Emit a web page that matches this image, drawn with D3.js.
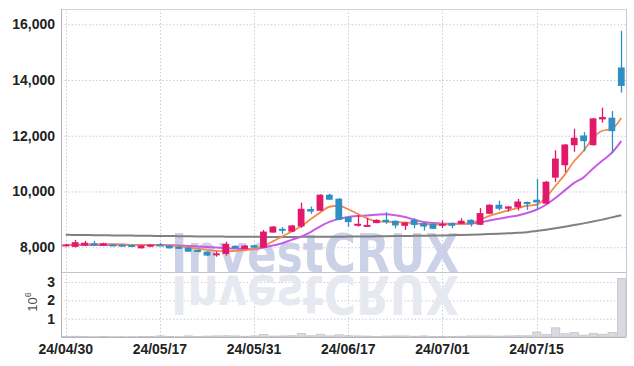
<!DOCTYPE html>
<html>
<head>
<meta charset="utf-8">
<script src="https://cdn.jsdelivr.net/npm/d3@7"></script>
<style>
  body { margin: 0; background: #fff; }
  svg { display: block; }
  .axis text { font-family: "Liberation Sans Narrow", "Liberation Sans", sans-serif; font-weight: bold; font-size: 14px; fill: #222; }
  .grid line { stroke: #c9cbe0; stroke-width: 1; stroke-dasharray: 1.5,2; }
</style>
</head>
<body>
<svg class="chart" width="634" height="366"></svg>
<script>
let dates = ['24/04/30','24/05/02','24/05/03','24/05/07','24/05/08','24/05/09','24/05/10','24/05/13','24/05/14','24/05/16',
  '24/05/17','24/05/20','24/05/21','24/05/22','24/05/23','24/05/24','24/05/27','24/05/28','24/05/29','24/05/30',
  '24/05/31','24/06/03','24/06/04','24/06/05','24/06/07','24/06/10','24/06/11','24/06/12','24/06/13','24/06/14',
  '24/06/17','24/06/18','24/06/19','24/06/20','24/06/21','24/06/24','24/06/25','24/06/26','24/06/27','24/06/28',
  '24/07/01','24/07/02','24/07/03','24/07/04','24/07/05','24/07/08','24/07/09','24/07/10','24/07/11','24/07/12',
  '24/07/15','24/07/16','24/07/17','24/07/18','24/07/19','24/07/22','24/07/23','24/07/24','24/07/25','24/07/26']

let opens = [8050,8010,8060,8140,8050,8100,8090,8080,7960,8070,
  8100,8060,8020,7985,7900,7840,7720,7760,8050,7940,
  8070,7980,8526,8660,8560,8742,9370,9308,9885,9741,
  9081,8770,8740,8865,8984,8950,8768,8984,8865,8840,
  8780,8865,8840,8984,8804,9200,9524,9380,9427,9622,
  9705,9561,10497,10941,11660,12011,11660,12588,12649,14451]
let highs = [8120,8260,8230,8230,8160,8110,8100,8100,8080,8110,
  8160,8070,8030,7990,7920,7850,7850,8200,8070,8080,
  8080,8620,8760,8720,8800,9597,9460,9900,9920,9760,
  9100,9164,9050,9000,9260,8960,8900,9040,8880,8850,
  8960,8880,9040,9000,9405,9540,9670,9470,9730,9640,
  10451,10380,11480,11700,12253,12130,12640,13010,12887,15770]
let lows = [8030,7990,8040,8050,8040,8040,8030,8000,7950,8000,
  8060,7950,7930,7830,7840,7690,7660,7700,7950,7930,
  7970,7970,8520,8480,8550,8696,9200,9290,9690,8970,
  8730,8740,8740,8860,8840,8680,8620,8680,8600,8650,
  8690,8680,8830,8742,8790,9190,9320,9280,9320,9340,
  9340,9540,10340,10690,11424,11445,11650,12469,11388,13550]
let closes = [8100,8180,8160,8100,8140,8070,8060,8030,8060,8090,
  8080,7960,7940,7840,7870,7700,7780,8120,7965,8060,
  7985,8560,8742,8590,8780,9380,9280,9885,9705,8984,
  8901,8840,8800,8984,8900,8780,8886,8800,8742,8660,
  8840,8768,8950,8840,9225,9524,9380,9463,9643,9550,
  9607,10350,11182,11687,11928,11806,12624,12671,12166,13788]
// volume in millions of shares
let volumes = [0.03,0.04,0.03,0.02,0.03,0.02,0.02,0.02,0.03,0.03,
  0.06,0.03,0.02,0.06,0.03,0.05,0.06,0.07,0.06,0.04,
  0.06,0.14,0.05,0.06,0.07,0.2,0.07,0.15,0.06,0.12,
  0.07,0.06,0.05,0.03,0.05,0.06,0.06,0.04,0.06,0.03,
  0.03,0.03,0.04,0.06,0.06,0.06,0.05,0.06,0.07,0.07,
  0.27,0.14,0.5,0.18,0.24,0.1,0.2,0.15,0.24,3.2]

let maShort = [8083,8094,8101,8112,8112,8108,8097,8083,8072,8072,
  8072,8054,8029,7993,7946,7903,7867,7856,7867,7885,
  7939,8047,8209,8389,8562,8750,9002,9236,9452,9488,
  9362,9200,9038,8930,8912,8901,8887,8865,8829,8815,
  8822,8829,8840,8865,8984,9128,9225,9319,9406,9488,
  9524,9795,10198,10606,11092,11460,11928,12181,12246,12642]
let maMid = [8075,8078,8080,8082,8083,8084,8084,8083,8082,8080,
  8078,8070,8060,8045,8025,8005,7985,7965,7950,7935,
  7930,7986,8058,8144,8263,8382,8545,8742,8910,9010,
  9085,9120,9139,9164,9185,9145,9081,8990,8905,8865,
  8845,8840,8840,8845,8887,8959,9020,9081,9139,9225,
  9344,9524,9766,10040,10307,10508,10822,11110,11388,11806]
let maLong = [8443,8440,8436,8432,8428,8424,8420,8416,8412,8408,
  8404,8400,8396,8392,8388,8385,8382,8379,8376,8374,
  8372,8371,8370,8370,8370,8371,8372,8374,8376,8378,
  8381,8384,8387,8390,8394,8398,8402,8407,8412,8418,
  8424,8431,8439,8448,8458,8470,8484,8500,8518,8540,
  8585,8630,8680,8735,8795,8855,8920,8990,9070,9150]

let priceTicks = [8000, 10000, 12000, 14000, 16000]
let volumeTicks = [1, 2, 3]
let dateTicks = ['24/04/30', '24/05/17', '24/05/31', '24/06/17', '24/07/01', '24/07/15']

let candles = dates.map((d, i) => ({
  date: d, open: opens[i], high: highs[i], low: lows[i], close: closes[i], volume: volumes[i]
}))

let plotLeft = 61, plotRight = 626, plotTop = 9, plotSplit = 272, plotBottom = 337

let svg = d3.select('.chart')

let x = d3.scaleBand().domain(dates).range([plotLeft, plotRight]).paddingInner(0.28).paddingOuter(0.14)
let y = d3.scaleLinear().domain([7110, 16550]).range([plotSplit, plotTop])
let yVol = d3.scaleLinear().domain([0, 3.55]).range([plotBottom, plotSplit])
let cx = d => x(d) + x.bandwidth() / 2

svg.append('defs').append('clipPath').attr('id', 'plotClip')
  .append('rect').attr('x', plotLeft).attr('y', plotTop).attr('width', plotRight - plotLeft).attr('height', plotSplit - plotTop)

// grid lines
let grid = svg.append('g').attr('class', 'grid')
grid.selectAll('.hp').data(priceTicks).enter().append('line')
  .attr('x1', plotLeft).attr('x2', plotRight).attr('y1', d => y(d) + 0.5).attr('y2', d => y(d) + 0.5)
grid.selectAll('.hv').data(volumeTicks).enter().append('line')
  .attr('x1', plotLeft).attr('x2', plotRight).attr('y1', d => yVol(d) + 0.5).attr('y2', d => yVol(d) + 0.5)
grid.selectAll('.v').data(dateTicks).enter().append('line')
  .attr('x1', d => Math.round(cx(d)) + 0.5).attr('x2', d => Math.round(cx(d)) + 0.5)
  .attr('y1', plotTop).attr('y2', plotBottom)

// watermark, reflection drawn as a mirrored copy of the same text
let mark = svg.append('g').attr('font-family', '"DejaVu Sans", sans-serif').attr('font-weight', 'bold')
  .attr('font-size', 53).attr('text-anchor', 'middle').attr('fill', '#cbd1e6')
mark.append('text').attr('id', 'watermark').attr('x', 315).attr('y', 272)
  .attr('textLength', 288).attr('lengthAdjust', 'spacingAndGlyphs').text('InvestCRUX')
mark.append('use').attr('href', '#watermark').attr('fill', '#e7e9f1')
  .attr('transform', 'translate(0,548) scale(1,-1)')

// volume bars
svg.append('g').selectAll('rect').data(candles).enter().append('rect')
  .attr('x', d => x(d.date) - 0.5)
  .attr('width', x.bandwidth() + 1.5)
  .attr('y', d => yVol(d.volume))
  .attr('height', d => plotBottom - yVol(d.volume))
  .attr('fill', '#d9d9df').attr('stroke', '#c4c4cc').attr('stroke-width', 0.8)

// moving averages
let plot = svg.append('g').attr('clip-path', 'url(#plotClip)')
let line = d3.line().x((d, i) => cx(dates[i])).y(d => y(d)).curve(d3.curveMonotoneX)
plot.append('path').datum(maLong).attr('d', line).attr('fill', 'none').attr('stroke', '#808080').attr('stroke-width', 2)
plot.append('path').datum(maMid).attr('d', line).attr('fill', 'none').attr('stroke', '#c85ae6').attr('stroke-width', 2)
plot.append('path').datum(maShort).attr('d', line).attr('fill', 'none').attr('stroke', '#f08b4f').attr('stroke-width', 1.8)

// candles
let up = '#e2196a', down = '#2f8fc5'
let candle = plot.selectAll('.candle').data(candles).enter().append('g')
candle.append('line')
  .attr('x1', d => Math.round(cx(d.date)) + 0.5).attr('x2', d => Math.round(cx(d.date)) + 0.5)
  .attr('y1', d => y(d.high)).attr('y2', d => y(d.low))
  .attr('stroke', d => d.close >= d.open ? up : down).attr('stroke-width', 1.3)
candle.append('rect')
  .attr('x', d => x(d.date))
  .attr('width', x.bandwidth())
  .attr('y', d => y(Math.max(d.open, d.close)))
  .attr('height', d => Math.max(2, Math.abs(y(d.open) - y(d.close))))
  .attr('fill', d => d.close >= d.open ? up : down)

// frame
let frame = svg.append('g').attr('fill', 'none')
frame.append('line').attr('x1', plotLeft).attr('x2', plotRight).attr('y1', plotTop + 0.5).attr('y2', plotTop + 0.5).attr('stroke', '#d4d4d8')
frame.append('line').attr('x1', plotLeft).attr('x2', plotRight).attr('y1', plotSplit + 0.5).attr('y2', plotSplit + 0.5).attr('stroke', '#c4c4ca')
frame.append('line').attr('x1', plotLeft).attr('x2', plotRight).attr('y1', plotBottom + 0.5).attr('y2', plotBottom + 0.5).attr('stroke', '#b4b4ba')
frame.append('line').attr('x1', plotLeft + 0.5).attr('x2', plotLeft + 0.5).attr('y1', plotTop).attr('y2', plotBottom).attr('stroke', '#b4b4ba')
frame.append('line').attr('x1', plotRight + 0.5).attr('x2', plotRight + 0.5).attr('y1', plotTop).attr('y2', plotBottom).attr('stroke', '#c8c8ce')

// axes
svg.append('g').attr('class', 'axis y')
  .attr('transform', 'translate(' + plotLeft + ',0)')
  .call(d3.axisLeft(y).tickValues(priceTicks).tickFormat(d3.format(',')).tickSize(0).tickPadding(6))
  .call(g => g.select('.domain').remove())

svg.append('g').attr('class', 'axis vol')
  .attr('transform', 'translate(' + plotLeft + ',0)')
  .call(d3.axisLeft(yVol).tickValues(volumeTicks).tickFormat(d3.format('d')).tickSize(0).tickPadding(6))
  .call(g => g.select('.domain').remove())

svg.append('g').attr('class', 'axis x')
  .attr('transform', 'translate(0,' + plotBottom + ')')
  .call(d3.axisBottom(x).tickValues(dateTicks).tickSize(0).tickPadding(7))
  .call(g => g.select('.domain').remove())

let unit = svg.append('text')
  .attr('transform', 'translate(37,302) rotate(-90)')
  .attr('text-anchor', 'middle')
  .attr('font-family', '"Liberation Sans", sans-serif')
  .attr('font-size', 13).attr('fill', '#555')
unit.append('tspan').text('10')
unit.append('tspan').attr('dy', -6).attr('font-size', 9).text('6')
</script>
</body>
</html>
